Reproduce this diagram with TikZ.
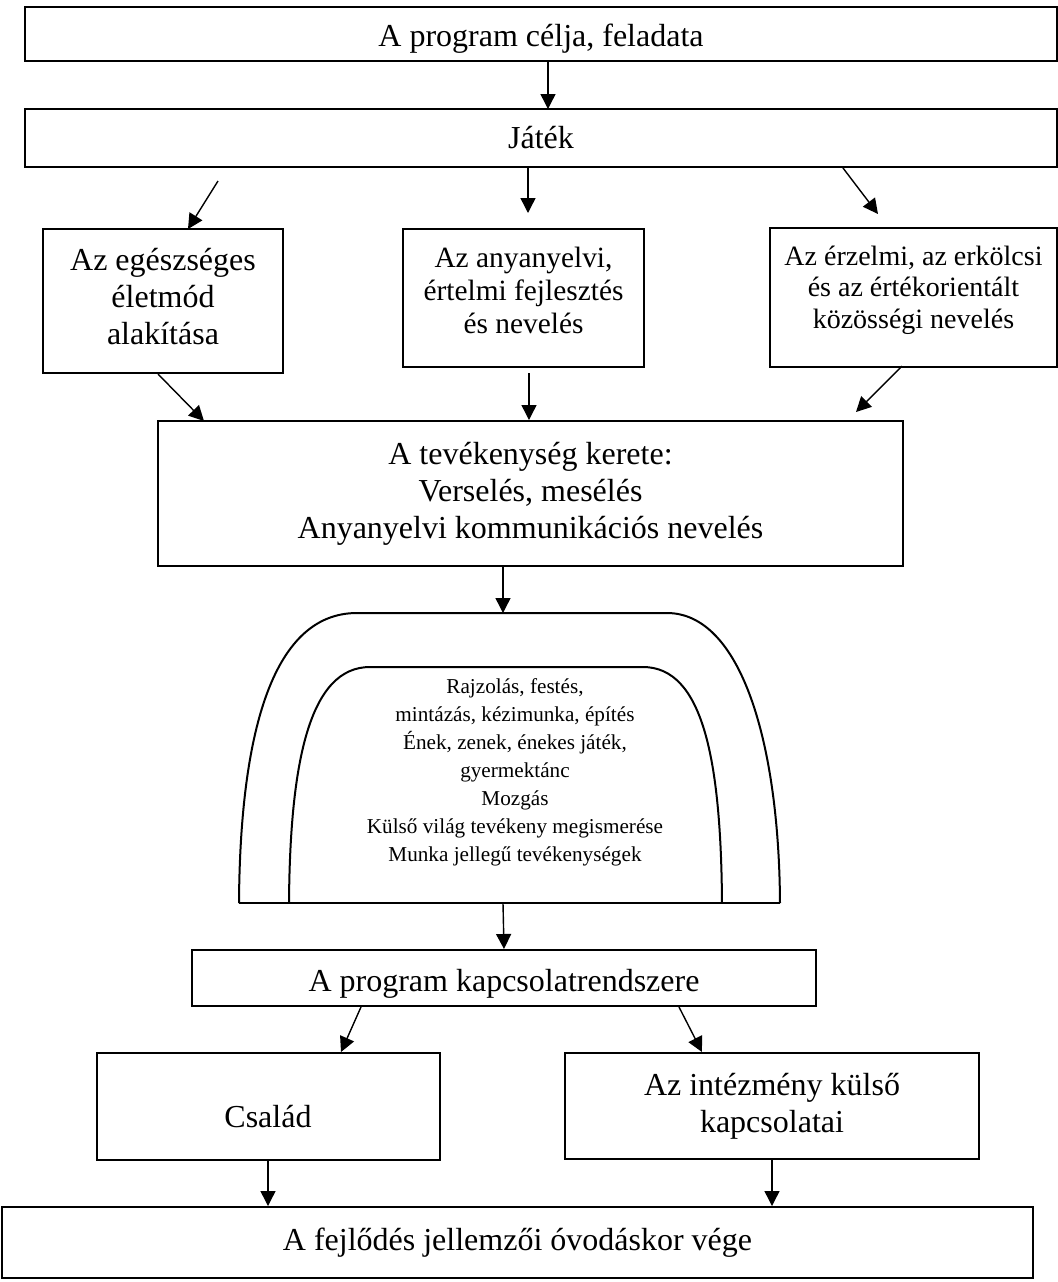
\documentclass[tikz,border=0pt]{standalone}
\usepackage{fontspec}
\setmainfont{Liberation Serif}
\usetikzlibrary{arrows.meta}

\tikzset{
  box/.style={draw,line width=1pt,align=center,inner sep=0pt},
  wh/.style 2 args={minimum width=#1*0.5pt,minimum height=#2*0.5pt},
  big/.style={font=\fontsize{16}{18.5}\selectfont},
  arr/.style={-{Triangle[length=7.5pt,width=7.5pt]},line width=0.7pt},
  arch/.style={line width=1pt},
}

\begin{document}
\begin{tikzpicture}[x=0.5pt,y=-0.5pt]
  \useasboundingbox (0,0) rectangle (1058,1282);

% top of the program
  \node[box,big,wh={1032}{54},text height=16pt] (goal)  at (541,34)  {A program célja, feladata};
  \node[box,big,wh={1032}{58}] (jatek) at (541,138) {Játék};

% three areas of education
  \node[box,big,wh={240}{144},text depth=5pt] (health) at (163,301) {Az egészséges\\ életmód\\ alakítása};
  \node[box,wh={241}{138},text depth=8pt,font=\fontsize{14.7}{16.5}\selectfont] (lang) at (523.5,298) {Az anyanyelvi,\\ értelmi fejlesztés\\ és nevelés};
  \node[box,wh={287}{139},text depth=10.7pt,font=\fontsize{14}{15.75}\selectfont] (moral) at (913.5,297.5) {Az érzelmi, az erkölcsi\\ és az értékorientált\\ közösségi nevelés};

% frame of the activities
  \node[box,big,wh={745}{145}] (frame) at (530.5,493.5) {A tevékenység kerete:\\ Verselés, mesélés\\ Anyanyelvi kommunikációs nevelés};

% arches
  \draw[arch] (239,903) .. controls (240,740) and (270,613) .. (357,613) -- (667,613)
              .. controls (740,613) and (779,740) .. (780,903);
  \draw[arch] (289,903) .. controls (290,760) and (310,667) .. (370,667) -- (643,667)
              .. controls (703,667) and (721,760) .. (722,903);
  \draw[arch] (239,903) -- (780,903);
  \node[align=center,font=\fontsize{10.6}{14}\selectfont] (acts) at (515,772) {Rajzolás, festés,\\ mintázás, kézimunka, építés\\ Ének, zenek, énekes játék,\\ gyermektánc\\ Mozgás\\ Külső világ tevékeny megismerése\\ Munka jellegű tevékenységek};

% relations
  \node[box,big,wh={624}{56},text height=17pt] (links) at (504,978) {A program kapcsolatrendszere};
  \node[box,big,wh={343}{107},text height=21.5pt] (family) at (268,1106.5) {Család};
  \node[box,big,wh={414}{106}] (outside) at (772,1106) {Az intézmény külső\\ kapcsolatai};
  \node[box,big,wh={1031}{71}] (result) at (517.5,1242.5) {A fejlődés jellemzői óvodáskor vége};

% free ends of the arrows
  \coordinate (gj) at (548,109);
  \coordinate (jh1) at (218,181);  \coordinate (jh2) at (188,229);
  \coordinate (jl) at (528,213);
  \coordinate (jm1) at (843,168);  \coordinate (jm2) at (878,214);
  \coordinate (hf1) at (158,374);  \coordinate (hf2) at (204,421);
  \coordinate (lf) at (529,373);
  \coordinate (mf1) at (902,366);  \coordinate (mf2) at (856,412);
  \coordinate (archtop) at (503,613);
  \coordinate (archbot) at (503,903);
  \coordinate (lk1) at (361,1007); \coordinate (lk2) at (341,1052);
  \coordinate (lo1) at (679,1007); \coordinate (lo2) at (702,1052);

% arrows
  \draw[arr] (goal.south -| gj) -- (gj);
  \draw[arr] (jh1) -- (jh2);
  \draw[arr] (jatek.south -| jl) -- (jl);
  \draw[arr] (jm1) -- (jm2);
  \draw[arr] (hf1) -- (hf2);
  \draw[arr] (lf) -- (lf |- frame.north);
  \draw[arr] (mf1) -- (mf2);
  \draw[arr] (frame.south -| archtop) -- (archtop);
  \draw[arr] (archbot) -- (links.north);
  \draw[arr] (lk1) -- (lk2);
  \draw[arr] (lo1) -- (lo2);
  \draw[arr] (family.south) -- (family.south |- result.north);
  \draw[arr] (outside.south) -- (outside.south |- result.north);

\end{tikzpicture}
\end{document}
